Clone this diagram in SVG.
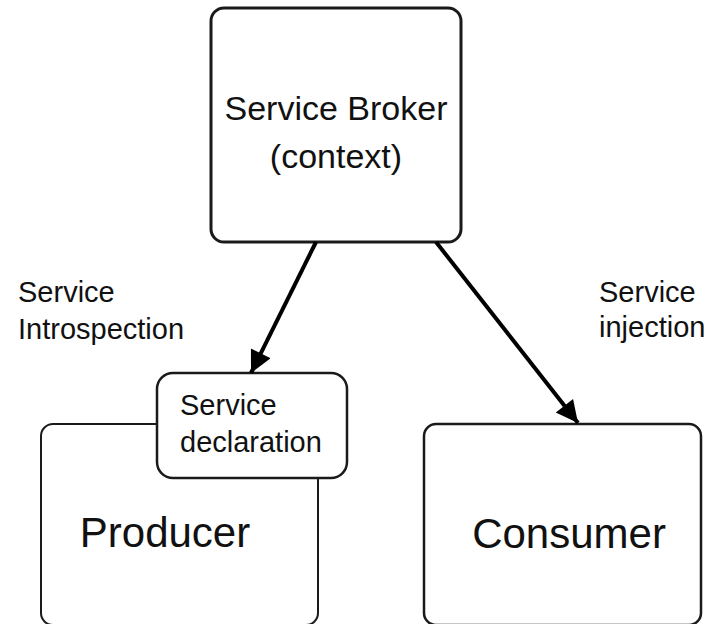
<svg xmlns="http://www.w3.org/2000/svg" width="726" height="624" viewBox="0 0 726 624">
  <defs>
    <style>
      text { font-family: "Liberation Sans", Arial, sans-serif; fill: #111; }
      .box { fill: #fff; stroke: #1a1a1a; }
      .big { font-size: 34px; }
      .mid { font-size: 42px; }
      .small { font-size: 29px; }
      .link { stroke: #000; stroke-width: 4; fill: none; }
    </style>
    <marker id="head" viewBox="0 0 10 10" refX="10" refY="5" markerWidth="6" markerHeight="5.5" markerUnits="strokeWidth" orient="auto">
      <path d="M0,0 L10,5 L0,10 z" fill="#000"/>
    </marker>
  </defs>
  <rect width="726" height="624" fill="#fff"/>

  <g id="broker">
    <rect class="box" x="211" y="8" width="250" height="234" rx="13" stroke-width="3"/>
    <text class="big" x="336" y="120" text-anchor="middle">Service Broker</text>
    <text class="big" x="336" y="168" text-anchor="middle">(context)</text>
  </g>

  <g id="producer">
    <rect class="box" x="41" y="424" width="277" height="201" rx="12" stroke-width="2"/>
    <text class="mid" x="165" y="547" text-anchor="middle">Producer</text>
  </g>

  <g id="declaration">
    <rect class="box" x="157" y="373" width="190" height="105" rx="16" stroke-width="2.5"/>
    <text class="small" x="180" y="415">Service</text>
    <text class="small" x="180" y="452">declaration</text>
  </g>

  <g id="consumer">
    <rect class="box" x="424" y="424" width="277" height="201" rx="12" stroke-width="2.5"/>
    <text class="mid" x="569" y="548" text-anchor="middle">Consumer</text>
  </g>

  <g id="connectors">
    <line class="link" x1="316" y1="242" x2="251" y2="373" marker-end="url(#head)"/>
    <line class="link" x1="436" y1="242" x2="578" y2="423" marker-end="url(#head)"/>
  </g>

  <g id="labels">
    <text class="small" x="18" y="302">Service</text>
    <text class="small" x="18" y="339">Introspection</text>
    <text class="small" x="599" y="302">Service</text>
    <text class="small" x="599" y="337">injection</text>
  </g>
</svg>
